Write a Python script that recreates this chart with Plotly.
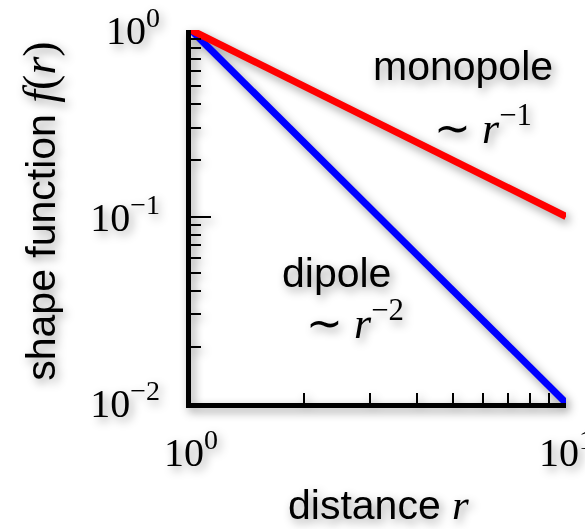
import plotly.graph_objects as go

# distance samples and the two shape functions (straight lines on log-log axes)
r = [1, 10]
monopole = [1.0, 0.1]
dipole = [1.0, 0.01]

x_tickvals = [1, 10]
x_ticktext = ["10<sup>0</sup>", "10<sup>1</sup>"]
y_tickvals = [0.01, 0.1, 1]
y_ticktext = ["10<sup>−2</sup>", "10<sup>−1</sup>", "10<sup>0</sup>"]
x_minor = [2, 3, 4, 5, 6, 7, 8, 9]
y_minor = [0.02, 0.03, 0.04, 0.05, 0.06, 0.07, 0.08, 0.09,
           0.2, 0.3, 0.4, 0.5, 0.6, 0.7, 0.8, 0.9]

SANS = "Liberation Sans, Arial, sans-serif"
SERIF = "Liberation Serif, Times New Roman, serif"

fig = go.Figure()
fig.add_trace(go.Scatter(x=r, y=dipole, mode="lines",
                         line=dict(color="#0000ff", width=7), showlegend=False))
fig.add_trace(go.Scatter(x=r, y=monopole, mode="lines",
                         line=dict(color="#ff0000", width=7), showlegend=False))

axis_common = dict(
    showgrid=False, zeroline=False, showline=True, linecolor="black", linewidth=5,
    ticks="inside", ticklen=20, tickwidth=2, tickcolor="black",
    tickmode="array", tickfont=dict(family=SERIF, size=40, color="black"),
    ticklabeloverflow="allow", automargin=False,
)

fig.update_xaxes(type="log", range=[0, 1], tickvals=x_tickvals, ticktext=x_ticktext,
                 ticklabelstandoff=10,
                 minor=dict(tickmode="array", tickvals=x_minor, ticks="inside",
                            ticklen=10, tickwidth=2, tickcolor="black"),
                 **axis_common)
fig.update_yaxes(type="log", range=[-2, 0], tickvals=y_tickvals, ticktext=y_ticktext,
                 ticklabelstandoff=18,
                 minor=dict(tickmode="array", tickvals=y_minor, ticks="inside",
                            ticklen=10, tickwidth=2, tickcolor="black"),
                 **axis_common)

text_font = dict(family=SANS, size=41, color="black")
math_font = dict(family=SERIF, size=44, color="black")

annotations = [
    dict(x=0.725, y=0.903, text="monopole", font=text_font),
    dict(x=0.779, y=0.743, text="∼ <i>r</i><sup>−1</sup>", font=math_font),
    dict(x=0.387, y=0.349, text="dipole", font=text_font),
    dict(x=0.437, y=0.220, text="∼ <i>r</i><sup>−2</sup>", font=math_font),
    dict(x=0.499, y=-0.272,
         text="distance <span style='font-family:Liberation Serif;font-size:43px'><i>r</i></span>",
         font=text_font),
    dict(x=-0.403, y=0.515, textangle=-90,
         text="shape function <span style='font-family:Liberation Serif;font-size:46px'>"
              "<i>f</i>(<i>r</i>)</span>",
         font=text_font),
]
for a in annotations:
    a.update(xref="paper", yref="paper", showarrow=False,
             xanchor="center", yanchor="middle")

fig.update_layout(
    width=585, height=529,
    margin=dict(l=191, r=19, t=30, b=126, autoexpand=False),
    paper_bgcolor="rgba(0,0,0,0)", plot_bgcolor="rgba(0,0,0,0)",
    annotations=annotations,
)

# soft drop shadow behind every drawn element
shadow_js = (
    "var st=document.createElement('style');"
    "st.textContent='.main-svg{filter:drop-shadow(3px 4px 5px rgba(0,0,0,0.4)) !important;}';"
    "document.head.appendChild(st);"
)
fig.write_html("out.html", post_script=shadow_js)
